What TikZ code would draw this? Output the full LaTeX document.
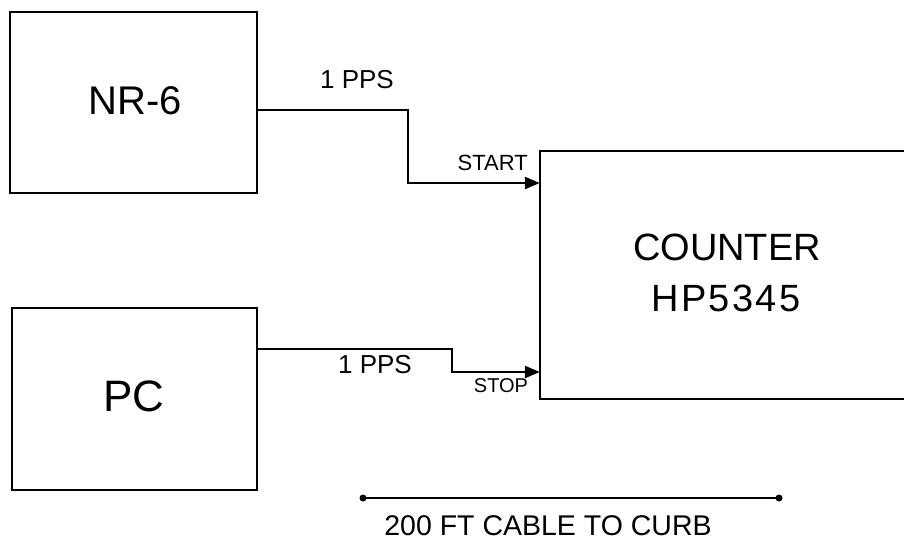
\documentclass[tikz,border=0pt]{standalone}
\usepackage{fontspec}
\setmainfont{Liberation Sans}
\usetikzlibrary{arrows.meta}
\tikzset{
  box/.style={draw, line width=2.5pt, inner sep=0pt},
  sig/.style={line width=2.5pt, -{Triangle[length=15pt,width=12pt]}},
  lbl/.style={inner sep=0pt, font=\fontsize{26}{26}\selectfont},
  small/.style={inner sep=0pt, font=\fontsize{20}{20}\selectfont},
  big/.style={inner sep=0pt, font=\fontsize{38}{38}\selectfont},
}
\begin{document}
\begin{tikzpicture}[x=1pt,y=-1pt]
\useasboundingbox (0,0) rectangle (904,544);
% boxes
\node[box, minimum width=247pt, minimum height=181pt] (nr) at (133.5,102.5) {};
\node[big, font=\fontsize{40}{40}\selectfont] (nrt) at (135,101) {NR-6};
\node[box, minimum width=245pt, minimum height=182pt] (pc) at (134.5,399) {};
\node[big, font=\fontsize{44}{44}\selectfont] (pct) at (134,396) {PC};
\node[inner sep=0pt, minimum width=380pt, minimum height=248pt] (counter) at (730,275) {};
\draw[line width=2.5pt] (counter.north east) -- (counter.north west) -- (counter.south west) -- (counter.south east);
\node[big] (ct1) at (727,247) {COUNTER};
\node[big] (ct2) at (726,298) {\addfontfeature{LetterSpace=6}HP5345};
% connectors
\draw[sig] ([yshift=-7.5pt]nr.east) -| (408,183) -- (counter.west |- 0,183);
\draw[sig] ([yshift=50pt]pc.east) -| (452,372) -- (counter.west |- 0,372);
% labels
\node[lbl] (pps1) at (357,80) {1 PPS};
\node[small, font=\fontsize{22}{22}\selectfont, anchor=east] (start) at (528,163) {START};
\node[lbl] (pps2) at (375,365) {1 PPS};
\node[small] (stop) at (501,386) {STOP};
% cable
\coordinate (c1) at (363,498);
\coordinate (c2) at (779,498);
\draw[line width=1.8pt] (c1) -- (c2);
\fill (c1) circle (3.5pt);
\fill (c2) circle (3.5pt);
\node[inner sep=0pt, font=\fontsize{28.5}{28.5}\selectfont] (cable) at (548,526) {200 FT CABLE TO CURB};
\end{tikzpicture}
\end{document}
